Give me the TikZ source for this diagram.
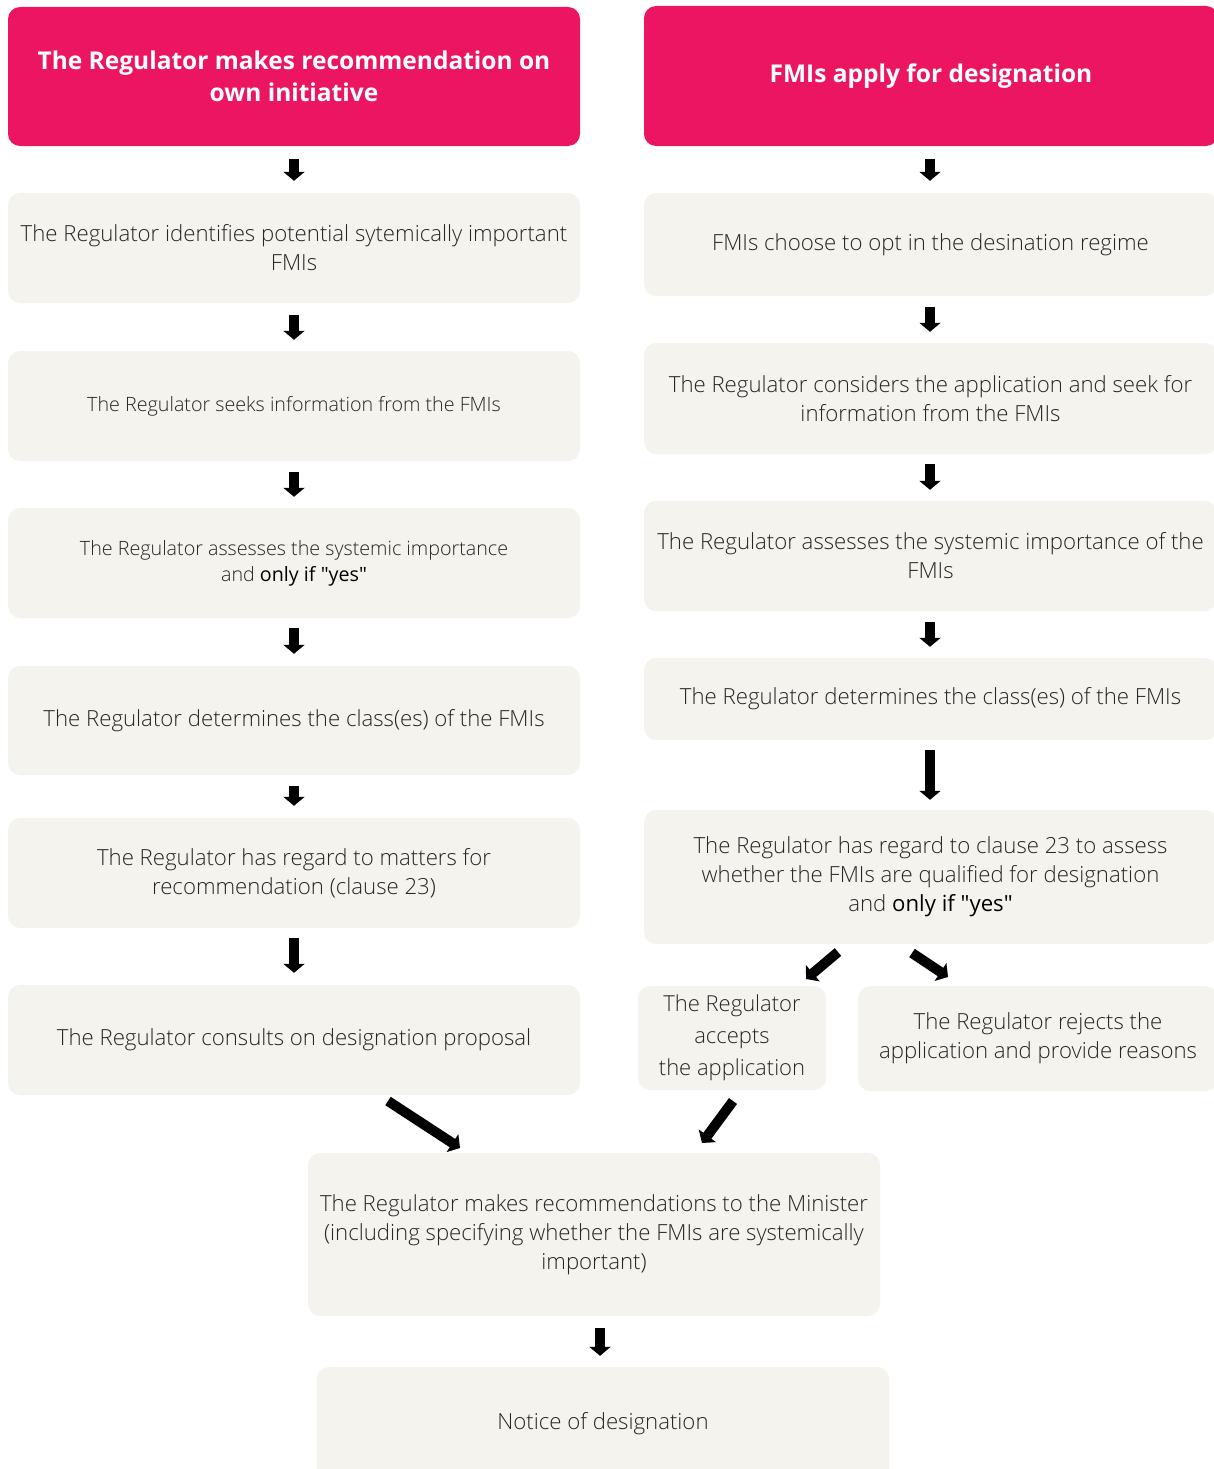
\documentclass[tikz,border=0pt]{standalone}
\usepackage{fontspec}
\setmainfont{Open Sans Light}[BoldFont={Open Sans}]
\newfontfamily\headf{Open Sans Bold}
\newfontfamily\yesf{Open Sans}[Ligatures=TeXOff]
\usetikzlibrary{arrows.meta}
\definecolor{pink}{HTML}{EC1561}
\definecolor{boxfill}{HTML}{F4F3EE}
\definecolor{txt}{HTML}{262626}
\newcommand{\qyes}{{\yesf\color{black}only if "yes"}}
\tikzset{
  hdr/.style={fill=pink, rounded corners=12pt, text=white, align=center, inner sep=0pt,
    font=\headf\fontsize{24.5}{32}\selectfont},
  stepbox/.style={fill=boxfill, rounded corners=12pt, text=txt, align=center, inner sep=0pt,
    font=\fontsize{22.2}{29}\selectfont},
  smallbox/.style={stepbox, font=\fontsize{19.7}{26}\selectfont},
  blockarr/.style={line width=10pt, -{Triangle[width=21pt,length=9pt]}, black},
}
\begin{document}
\begin{tikzpicture}[x=1pt,y=-1pt]
\useasboundingbox (0,0) rectangle (1213,1469);
% left column
\node[hdr, minimum width=572pt, minimum height=139pt] (h1) at (294,76.5)
  {The Regulator makes recommendation on\\own initiative};
\node[stepbox, minimum width=572pt, minimum height=110pt] (l1) at (294,248)
  {The Regulator identifies potential sytemically important\\FMIs};
\node[smallbox, minimum width=572pt, minimum height=110pt] (l2) at (294,406)
  {The Regulator seeks information from the FMIs};
\node[smallbox, minimum width=572pt, minimum height=110pt] (l3) at (294,563)
  {The Regulator assesses the systemic importance\\and \qyes};
\node[stepbox, minimum width=572pt, minimum height=109pt] (l4) at (294,720.5)
  {The Regulator determines the class(es) of the FMIs};
\node[stepbox, minimum width=572pt, minimum height=110pt] (l5) at (294,873)
  {The Regulator has regard to matters for\\recommendation (clause 23)};
\node[stepbox, minimum width=572pt, minimum height=110pt] (l6) at (294,1040)
  {The Regulator consults on designation proposal};
% right column
\node[hdr, minimum width=574pt, minimum height=140pt] (h2) at (931,76)
  {FMIs apply for designation};
\node[stepbox, minimum width=573pt, minimum height=103pt] (r1) at (930.5,244.5)
  {FMIs choose to opt in the desination regime};
\node[stepbox, minimum width=573pt, minimum height=111pt] (r2) at (930.5,398.5)
  {The Regulator considers the application and seek for\\information from the FMIs};
\node[stepbox, minimum width=573pt, minimum height=110pt] (r3) at (930.5,556)
  {The Regulator assesses the systemic importance of the\\FMIs};
\node[stepbox, minimum width=573pt, minimum height=82pt] (r4) at (930.5,699)
  {The Regulator determines the class(es) of the FMIs};
\node[stepbox, minimum width=573pt, minimum height=134pt] (r5) at (930.5,877)
  {The Regulator has regard to clause 23 to assess\\whether the FMIs are qualified for designation\\and \qyes};
\node[stepbox, minimum width=188pt, minimum height=104pt, font=\fontsize{22}{32}\selectfont] (acc) at (732,1038)
  {The Regulator\\accepts\\the application};
\node[stepbox, minimum width=360pt, minimum height=105pt] (rej) at (1038,1038.5)
  {The Regulator rejects the\\application and provide reasons};
% bottom
\node[stepbox, minimum width=572pt, minimum height=163pt] (min) at (594,1234.5)
  {The Regulator makes recommendations to the Minister\\(including specifying whether the FMIs are systemically\\important)};
\node[stepbox, minimum width=572pt, minimum height=113pt] (not) at (603,1423.5)
  {Notice of designation};
% arrows
\draw[blockarr, shorten <=13pt, shorten >=12pt] (h1.south) -- (l1.north);
\draw[blockarr, shorten <=12pt, shorten >=11pt] (l1.south) -- (l2.north);
\draw[blockarr, shorten <=11pt, shorten >=11pt] (l2.south) -- (l3.north);
\draw[blockarr, shorten <=10pt, shorten >=12pt] (l3.south) -- (l4.north);
\draw[blockarr, shorten <=11pt, shorten >=12pt] (l4.south) -- (l5.north);
\draw[blockarr, shorten <=10pt, shorten >=12pt] (l5.south) -- (l6.north);
\draw[blockarr, shorten <=13pt, shorten >=12pt] ([xshift=-1pt]h2.south) -- ([xshift=-0.5pt]r1.north);
\draw[blockarr, shorten <=11pt, shorten >=11pt] ([xshift=-0.5pt]r1.south) -- ([xshift=-0.5pt]r2.north);
\draw[blockarr, shorten <=10pt, shorten >=11pt] ([xshift=-0.5pt]r2.south) -- ([xshift=-0.5pt]r3.north);
\draw[blockarr, shorten <=11pt, shorten >=11pt] ([xshift=-0.5pt]r3.south) -- ([xshift=-0.5pt]r4.north);
\draw[blockarr, shorten <=10pt, shorten >=10pt] ([xshift=-0.5pt]r4.south) -- ([xshift=-0.5pt]r5.north);
\coordinate (a1s) at (838,952); \coordinate (a1e) at (806,979);
\coordinate (a2s) at (912,953); \coordinate (a2e) at (948,977);
\coordinate (a3s) at (388,1101); \coordinate (a3e) at (460,1148);
\coordinate (a4s) at (733,1101); \coordinate (a4e) at (702,1143);
\draw[blockarr] (a1s) -- (a1e);
\draw[blockarr] (a2s) -- (a2e);
\draw[blockarr] (a3s) -- (a3e);
\draw[blockarr] (a4s) -- (a4e);
\draw[blockarr, shorten <=12pt, shorten >=11pt] ([xshift=6pt]min.south) -- ([xshift=-3pt]not.north);
\end{tikzpicture}
\end{document}
